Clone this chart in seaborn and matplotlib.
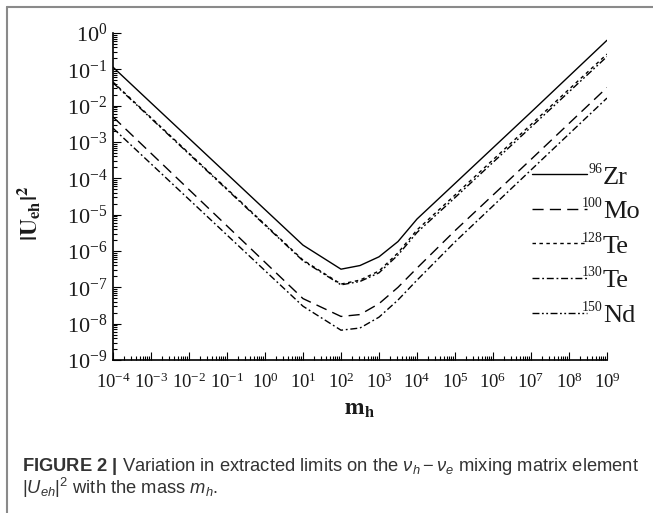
import numpy as np
import pandas as pd
import matplotlib
matplotlib.use("Agg")
import matplotlib.pyplot as plt
import seaborn as sns
from matplotlib.ticker import (LogLocator, FixedLocator, LogFormatterSciNotation,
                               NullFormatter)
from matplotlib.lines import Line2D

# ---------------- data ----------------
m_h = [1e-4, 1e-3, 1e-2, 1e-1, 1e0, 1e1, 1e2, 3.16e2, 1e3, 3.16e3, 1e4,
       1e5, 1e6, 1e7, 1e8, 1e9]

U_96Zr = [1.15e-1, 1.20e-2, 1.26e-3, 1.32e-4, 1.38e-5, 1.45e-6, 3.16e-7,
          3.98e-7, 6.92e-7, 1.82e-6, 7.59e-6, 7.24e-5, 6.92e-4, 6.61e-3,
          6.46e-2, 6.31e-1]
U_100Mo = [4.90e-3, 4.90e-4, 4.90e-5, 4.90e-6, 4.90e-7, 4.90e-8, 1.58e-8,
           1.78e-8, 3.55e-8, 1.00e-7, 3.39e-7, 3.63e-6, 3.47e-5, 3.31e-4,
           3.24e-3, 3.16e-2]
U_128Te = [4.47e-2, 4.68e-3, 4.90e-4, 5.13e-5, 5.37e-6, 5.62e-7, 1.23e-7,
           1.58e-7, 2.82e-7, 8.91e-7, 3.80e-6, 3.47e-5, 3.24e-4, 3.02e-3,
           2.82e-2, 2.63e-1]
U_130Te = [2.40e-3, 2.51e-4, 2.63e-5, 2.75e-6, 2.88e-7, 3.02e-8, 6.61e-9,
           7.59e-9, 1.51e-8, 4.47e-8, 1.58e-7, 1.78e-6, 1.74e-5, 1.70e-4,
           1.66e-3, 1.62e-2]
U_150Nd = [4.27e-2, 4.47e-3, 4.68e-4, 4.90e-5, 5.13e-6, 5.37e-7, 1.17e-7,
           1.45e-7, 2.51e-7, 7.76e-7, 3.24e-6, 2.95e-5, 2.75e-4, 2.57e-3,
           2.40e-2, 2.24e-1]

isotopes = ["96Zr", "100Mo", "128Te", "130Te", "150Nd"]
mass_numbers = ["96", "100", "128", "130", "150"]
elements = ["Zr", "Mo", "Te", "Te", "Nd"]
series = [U_96Zr, U_100Mo, U_128Te, U_130Te, U_150Nd]

x_ticks = [1e-4, 1e-3, 1e-2, 1e-1, 1e0, 1e1, 1e2, 1e3, 1e4, 1e5, 1e6, 1e7,
           1e8, 1e9]
y_ticks = [1e-9, 1e-8, 1e-7, 1e-6, 1e-5, 1e-4, 1e-3, 1e-2, 1e-1, 1e0]

x_label = r"$\mathbf{m_h}$"
y_label = r"$\mathbf{|U_{eh}|^2}$"
caption1 = (r"$\mathbf{FIGURE\ 2\ |}$ Variation in extracted limits on the "
            r"$\nu_h - \nu_e$ mixing matrix element")
caption2 = r"$|U_{eh}|^2$ with the mass $m_h$."

# ---------------- style ----------------
sns.set_style("white")
plt.rcParams["font.family"] = ["Liberation Serif", "DejaVu Serif"]
plt.rcParams["mathtext.fontset"] = "stix"
plt.rcParams["mathtext.rm"] = "Liberation Sans"
plt.rcParams["mathtext.it"] = "Liberation Sans:italic"
plt.rcParams["mathtext.bf"] = "Liberation Sans:bold"
plt.rcParams["axes.unicode_minus"] = False

W, H = 653, 513
fig = plt.figure(figsize=(W / 100, H / 100), dpi=100)
fig.patch.set_facecolor("white")
ax = fig.add_axes([113 / W, 1 - 360 / H, (607 - 113) / W, (360 - 33) / H])

df = pd.concat(
    [pd.DataFrame({"m": m_h, "U": vals, "isotope": iso})
     for iso, vals in zip(isotopes, series)],
    ignore_index=True)

dash_map = {
    "96Zr": "",
    "100Mo": (8, 4.5),
    "128Te": (2.5, 2.5),
    "130Te": (5, 2, 1.3, 2),
    "150Nd": (5, 1.8, 1.3, 1.8, 1.3, 1.8),
}
sns.lineplot(data=df, x="m", y="U", hue="isotope", style="isotope",
             hue_order=isotopes, style_order=isotopes,
             palette={k: "black" for k in isotopes}, dashes=dash_map,
             estimator=None, sort=False, linewidth=1.0, ax=ax, legend=True)

ax.set_xscale("log")
ax.set_yscale("log")
ax.set_xlim(x_ticks[0], x_ticks[-1])
ax.set_ylim(y_ticks[0], y_ticks[-1])
ax.set_xlabel("")
ax.set_ylabel("")

ax.xaxis.set_major_locator(FixedLocator(x_ticks))
ax.yaxis.set_major_locator(FixedLocator(y_ticks))
ax.xaxis.set_minor_locator(LogLocator(base=10, subs=np.arange(2, 10), numticks=200))
ax.yaxis.set_minor_locator(LogLocator(base=10, subs=np.arange(2, 10), numticks=200))
ax.xaxis.set_major_formatter(LogFormatterSciNotation())
ax.yaxis.set_major_formatter(LogFormatterSciNotation())
ax.xaxis.set_minor_formatter(NullFormatter())
ax.yaxis.set_minor_formatter(NullFormatter())

ax.tick_params(which="both", direction="in", color="black", width=0.8,
               bottom=True, left=True, top=False, right=False)
ax.tick_params(which="major", length=5.5)
ax.tick_params(which="minor", length=3)
ax.tick_params(axis="x", which="major", labelsize=13.5, pad=9)
ax.tick_params(axis="y", which="major", labelsize=16, pad=4)
for lab in ax.get_xticklabels() + ax.get_yticklabels():
    lab.set_color("#1a1a1a")

for s in ["top", "right"]:
    ax.spines[s].set_visible(False)
for s in ["left", "bottom"]:
    ax.spines[s].set_color("black")
    ax.spines[s].set_linewidth(1.2)

# axis titles
fig.text(29 / W, 1 - 213 / H, y_label, rotation=90, ha="center", va="center",
         fontsize=17, color="#1a1a1a", math_fontfamily="stix")
fig.text(359 / W, 1 - 410 / H, x_label, ha="center", va="center",
         fontsize=17, color="#1a1a1a", math_fontfamily="stix")

# ---------------- legend ----------------
old = ax.get_legend()
handles = list(old.legend_handles)
old.remove()
for h in handles:
    h.set_color("black")
    h.set_linewidth(1.0)

LEG_FS = 19
fs_px = LEG_FS * 100 / 72.0


def make_legend(spacing):
    return ax.legend(handles, elements, loc="center left",
                     bbox_to_anchor=(532 / W, 1 - 246 / H),
                     bbox_transform=fig.transFigure, frameon=False,
                     borderpad=0, borderaxespad=0,
                     handlelength=55 / fs_px, handletextpad=16 / fs_px,
                     labelspacing=spacing, fontsize=LEG_FS)


ls = 0.2
leg = make_legend(ls)
fig.canvas.draw()
tx = leg.get_texts()
pitch = (tx[0].get_window_extent().y0 - tx[-1].get_window_extent().y0) / 4
ls = ls + (34.5 - pitch) / fs_px
leg.remove()
leg = make_legend(ls)
for t in leg.get_texts():
    t.set_color("#1a1a1a")
fig.canvas.draw()
for t, num in zip(leg.get_texts(), mass_numbers):
    bb = t.get_window_extent()
    fig.text((bb.x0 - 0.5) / W, (bb.y0 + 16) / H, num, ha="right",
             va="baseline", fontsize=10, color="#1a1a1a",
             family="Liberation Serif")

# ---------------- caption & frame ----------------
fig.text(22 / W, 1 - 471 / H, caption1, family="Liberation Sans",
         fontsize=13.2, color="#333333", va="baseline",
         math_fontfamily="custom")
fig.text(22 / W, 1 - 494 / H, caption2, family="Liberation Sans",
         fontsize=13.2, color="#333333", va="baseline",
         math_fontfamily="custom")

fig.add_artist(Line2D([7 / W, 7 / W], [0, 1 - 7 / H], transform=fig.transFigure,
                      color="#8a8a8a", lw=1.5))
fig.add_artist(Line2D([7 / W, 1], [1 - 7 / H, 1 - 7 / H], transform=fig.transFigure,
                      color="#8a8a8a", lw=1.5))

fig.savefig("out.png", dpi=100, facecolor="white")
